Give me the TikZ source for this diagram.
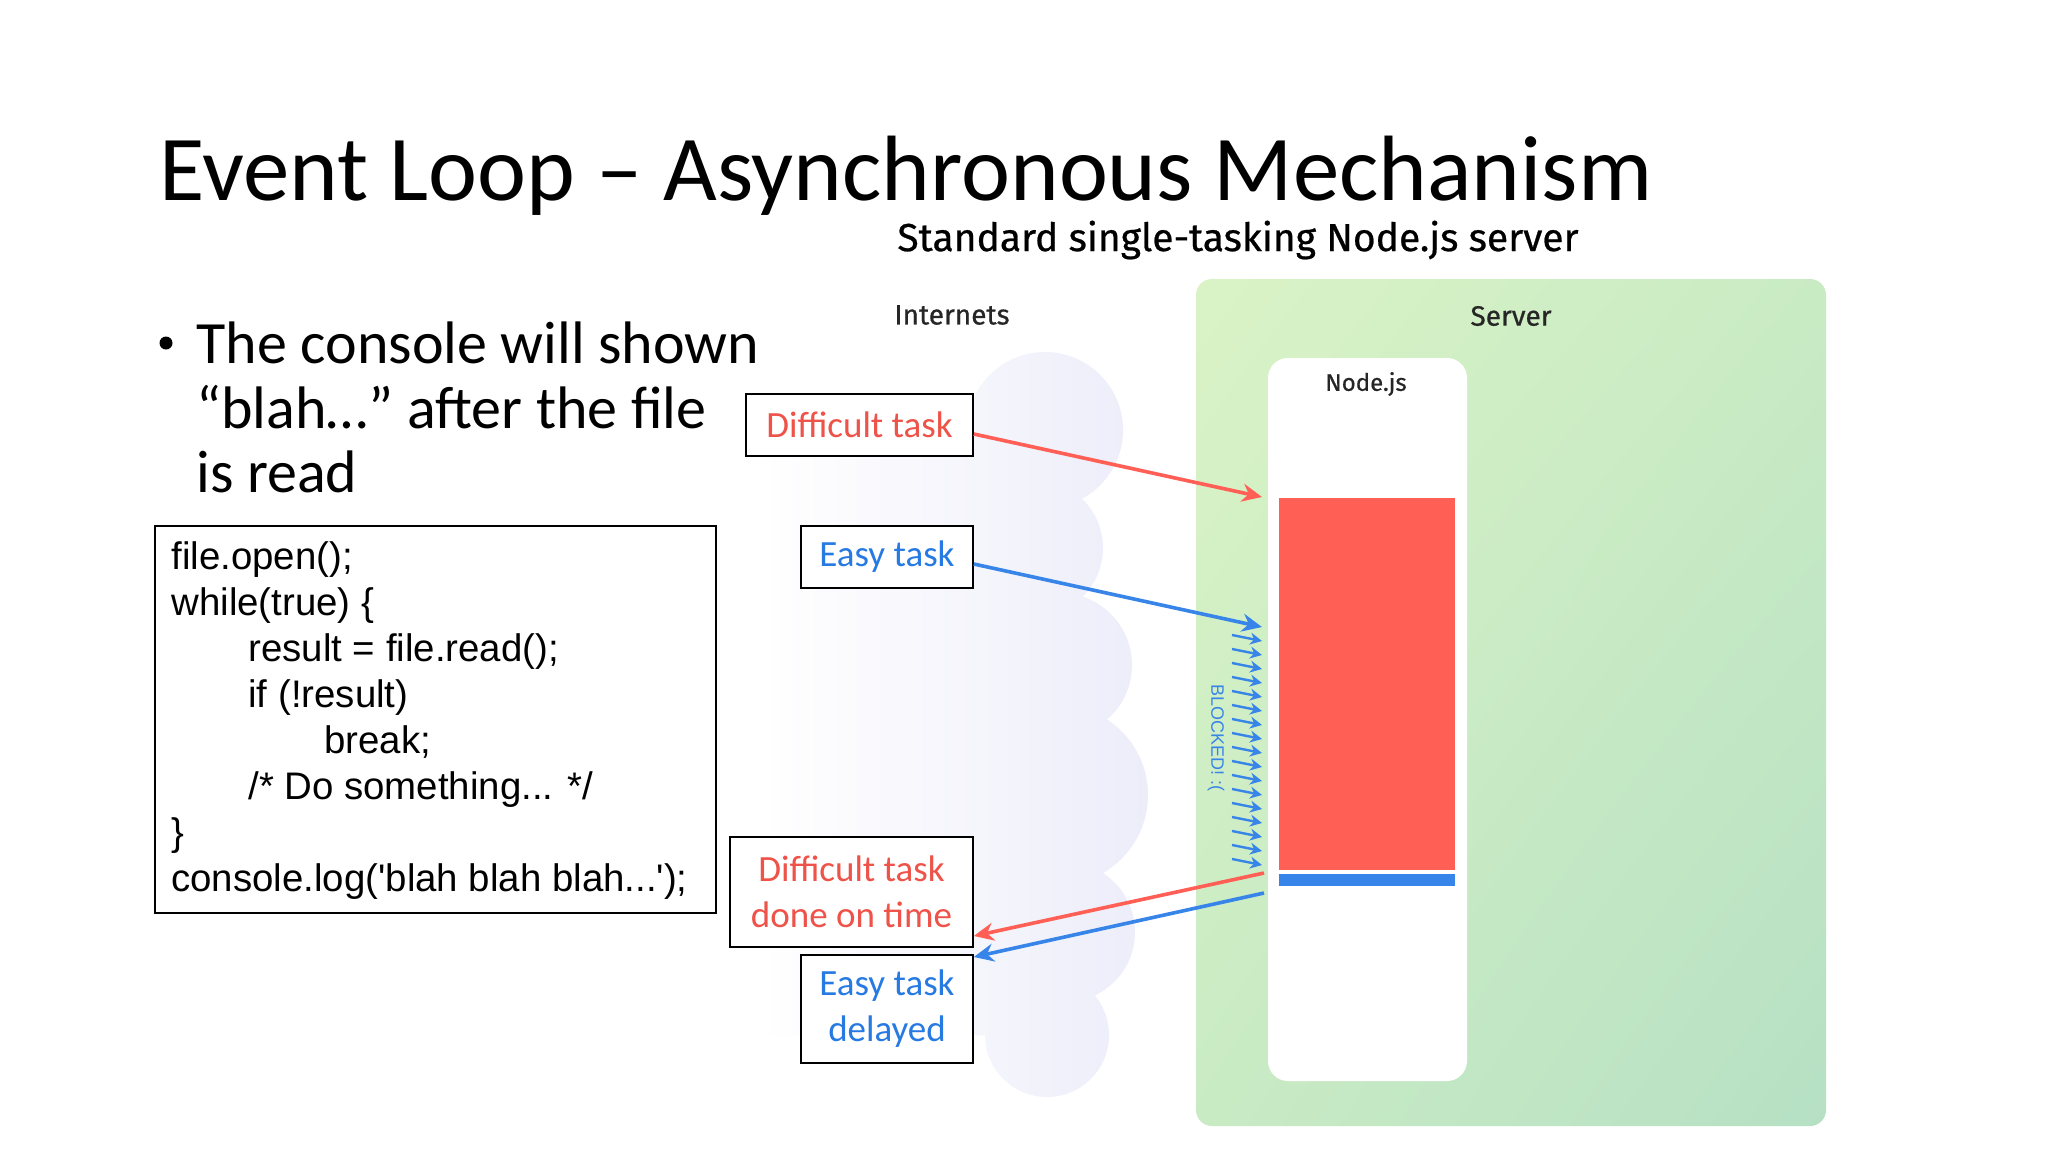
\documentclass[tikz,border=0pt]{standalone}
\usepackage{fontspec}
\setmainfont{Carlito}
\newfontfamily\codefont[Ligatures=TeXOff]{Liberation Sans}
\newfontfamily\diagfont[FakeBold=0.6]{Fira Sans}
\usetikzlibrary{arrows.meta,calc,shadings}
\definecolor{tred}{RGB}{255,95,85}
\definecolor{tblue}{RGB}{55,133,232}
\definecolor{lred}{RGB}{238,82,72}
\definecolor{lblue}{RGB}{38,122,226}
\definecolor{sgA}{RGB}{218,243,198}
\definecolor{sgB}{RGB}{201,235,196}
\definecolor{sgC}{RGB}{182,224,196}
\definecolor{cloudc}{RGB}{237,237,250}
\tikzset{
 taskbox/.style={draw=black, line width=0.8pt, fill=white, inner sep=0pt, align=center, font=\fontsize{18.5}{23}\selectfont},
 codeline/.style={anchor=base west, inner sep=0pt, font=\codefont\fontsize{19.2}{23}\selectfont},
 bullline/.style={anchor=base west, inner sep=0pt, font=\fontsize{30}{32}\selectfont},
 redarr/.style={draw=tred, line width=1.8pt, -{Stealth[length=10pt,width=9pt]}},
 bluearr/.style={draw=tblue, line width=1.8pt, -{Stealth[length=10pt,width=9pt]}},
 blockarr/.style={draw=tblue, line width=1.2pt, -{Stealth[length=6pt,width=6pt]}},
 diaglabel/.style={inner sep=0pt, font=\diagfont\fontsize{14}{16}\selectfont, text=black!85}
}
\begin{document}
\begin{tikzpicture}[x=0.5pt,y=-0.5pt]
\useasboundingbox (0,0) rectangle (2048,1152);
\fill[white] (0,0) rectangle (2048,1152);
% cloud
\shade[left color=white, middle color=white, right color=cloudc]
  (760,430) -- (1040,430) -- (1040,1035) -- (760,1035) -- cycle
  (1045,430) circle[radius=78]
  (1035,548) circle[radius=68]
  (1060,665) circle[radius=72]
  (1058,795) circle[radius=90]
  (1065,932) circle[radius=70]
  (1047,1035) circle[radius=62];
% server
\shade[rounded corners=8pt, upper left=sgA, upper right=sgB, lower left=sgB, lower right=sgC]
  (1196,279) rectangle (1826,1126);
\fill[white, rounded corners=10pt] (1268,358) rectangle (1467,1081);
\fill[tred] (1279,498) rectangle (1455,870);
\fill[tblue] (1279,874) rectangle (1455,886);
% title
\node[anchor=base west, inner sep=0pt, font=\fontsize{46.4}{50}\selectfont] (title) at (159,200) {Event Loop – Asynchronous Mechanism};
\node[inner sep=0pt, font=\diagfont\fontsize{19.5}{22}\selectfont] (sub) at (1238,240) {Standard single-tasking Node.js server};
% bullet
\node[circle, fill=black, minimum size=6.5pt, inner sep=0pt] (bul) at (166,343) {};
\node[bullline] (b1) at (196,363) {The console will shown};
\node[bullline] (b2) at (196,428) {“blah…” after the file};
\node[bullline] (b3) at (196,492) {is read};
% code box
\node[draw=black, line width=0.8pt, minimum width=280.5pt, minimum height=193.5pt, inner sep=0pt] (codebox) at (435.5,719.5) {};
\node[codeline] (c1) at (171,569) {file.open();};
\node[codeline] (c2) at (171,615) {while(true) \{};
\node[codeline] (c3) at (248,661) {result = file.read();};
\node[codeline] (c4) at (248,707) {if (!result)};
\node[codeline] (c5) at (324,753) {break;};
\node[codeline] (c6) at (248,799) {/* Do something... */};
\node[codeline] (c7) at (171,845) {\}};
\node[codeline] (c8) at (171,891) {console.log('blah blah blah...');};
% labels
\node[diaglabel] (inet) at (952,315) {Internets};
\node[diaglabel] (srv) at (1511,316) {Server};
\node[diaglabel, font=\diagfont\fontsize{12}{14}\selectfont] (njs) at (1366,384) {Node.js};
% task boxes
\node[taskbox, text=lred, minimum width=113.5pt, minimum height=31pt] (dt) at (859.5,425) {Difficult task};
\node[taskbox, text=lblue, minimum width=86pt, minimum height=31pt] (et) at (887,557) {Easy task};
\node[taskbox, text=lred, minimum width=121.5pt, minimum height=55pt] (dd) at (851.5,892) {Difficult task\\done on time};
\node[taskbox, text=lblue, minimum width=86pt, minimum height=54pt] (ed) at (887,1009) {Easy task\\delayed};
% arrows
\coordinate (rin) at (1262,497);
\coordinate (bin) at (1262,627);
\coordinate (rout) at (1264,873);
\coordinate (bout) at (1264,893);
\draw[redarr] ([yshift=-4.5pt]dt.east) -- (rin);
\draw[bluearr] ([yshift=-3.5pt]et.east) -- (bin);
\draw[redarr] (rout) -- ([yshift=-22pt]dd.east);
\draw[bluearr] (bout) -- ([yshift=26pt]ed.east);
\foreach \k in {0,...,16}{
  \coordinate (bk\k) at (1262,{641+14*\k});
  \draw[blockarr] ($(bk\k)+(-30,-6)$) -- (bk\k);
}
\node[rotate=-90, inner sep=0pt, text=tblue, font=\codefont\fontsize{9}{11}\selectfont] (blk) at (1216,738) {BLOCKED! :(};
\end{tikzpicture}
\end{document}
